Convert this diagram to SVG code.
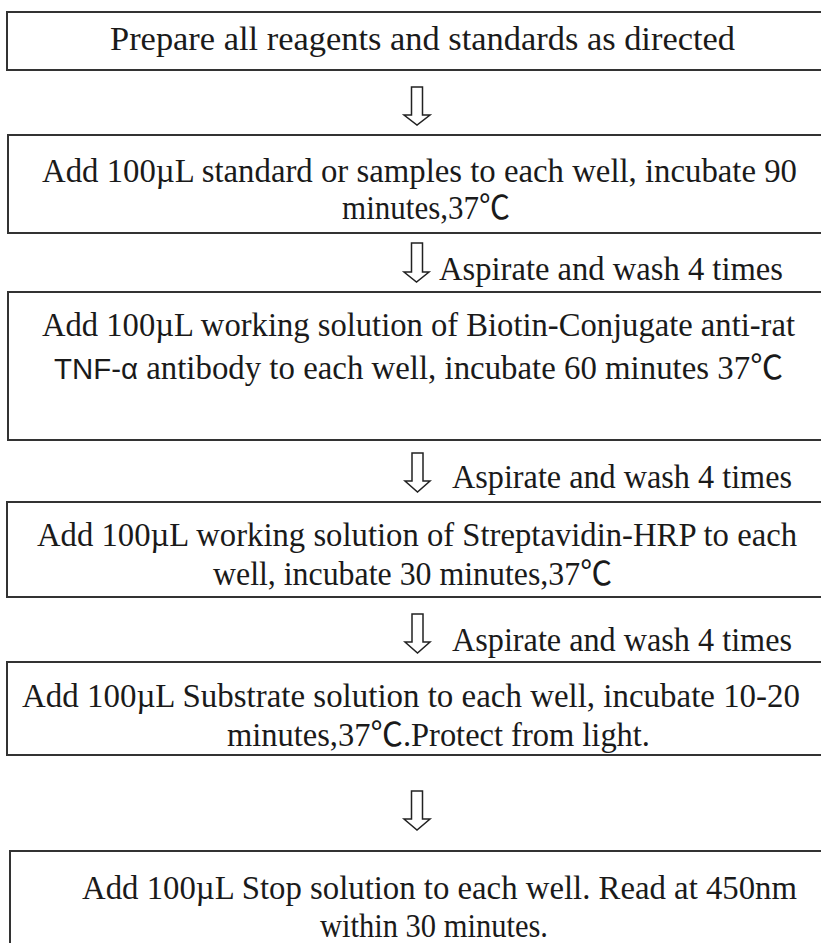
<svg xmlns="http://www.w3.org/2000/svg" width="821" height="943" viewBox="0 0 821 943">
<style>
.box{fill:#fff;stroke:#333;stroke-width:2}
.t{font-family:"Liberation Serif","Noto Sans CJK SC",serif;font-size:33.5px;fill:#1a1a1a}
.s{font-family:"Liberation Sans",Arial,sans-serif;font-size:30px}
.arr{fill:#fff;stroke:#222;stroke-width:1.5;stroke-linejoin:miter}
</style>
<rect width="821" height="943" fill="#fff"/>
<g id="connectors">
<path class="arr" d="M411.5,87 H422.5 V115 H430 L417,125 L404,115 H411.5 Z"/>
<path class="arr" d="M411.5,243 H422.5 V272 H429 L416.5,282 L404,272 H411.5 Z"/>
<text class="t" x="439" y="280" textLength="344" lengthAdjust="spacingAndGlyphs">Aspirate and wash 4 times</text>
<path class="arr" d="M412,453 H423 V481 H430 L417.5,492 L405,481 H412 Z"/>
<text class="t" x="452" y="488" textLength="340" lengthAdjust="spacingAndGlyphs">Aspirate and wash 4 times</text>
<path class="arr" d="M412,614 H423 V642 H430 L417.5,653 L405,642 H412 Z"/>
<text class="t" x="452" y="651" textLength="340" lengthAdjust="spacingAndGlyphs">Aspirate and wash 4 times</text>
<path class="arr" d="M411.5,791 H422.5 V819 H430 L417,830 L404,819 H411.5 Z"/>
</g>
<g id="n1">
<rect class="box" x="7" y="12" width="830" height="58"/>
<text class="t" x="110" y="50" textLength="625" lengthAdjust="spacingAndGlyphs">Prepare all reagents and standards as directed</text>
</g>
<g id="n2">
<rect class="box" x="8" y="135" width="830" height="98"/>
<text class="t" x="42" y="182" textLength="755" lengthAdjust="spacingAndGlyphs">Add 100µL standard or samples to each well, incubate 90</text>
<text class="t" x="342" y="219" textLength="168" lengthAdjust="spacingAndGlyphs">minutes,37℃</text>
</g>
<g id="n3">
<rect class="box" x="8" y="292" width="830" height="148"/>
<text class="t" x="42" y="336" textLength="753" lengthAdjust="spacingAndGlyphs">Add 100µL working solution of Biotin-Conjugate anti-rat</text>
<text class="t" x="54" y="379" textLength="729" lengthAdjust="spacingAndGlyphs"><tspan class="s">TNF-α</tspan> antibody to each well, incubate 60 minutes 37℃</text>
</g>
<g id="n4">
<rect class="box" x="7" y="502" width="830" height="95"/>
<text class="t" x="37" y="546" textLength="760" lengthAdjust="spacingAndGlyphs">Add 100µL working solution of Streptavidin-HRP to each</text>
<text class="t" x="213" y="585" textLength="399" lengthAdjust="spacingAndGlyphs">well, incubate 30 minutes,37℃</text>
</g>
<g id="n5">
<rect class="box" x="7" y="662" width="830" height="93"/>
<text class="t" x="22" y="707" textLength="778" lengthAdjust="spacingAndGlyphs">Add 100µL Substrate solution to each well, incubate 10-20</text>
<text class="t" x="227" y="746" textLength="423" lengthAdjust="spacingAndGlyphs">minutes,37℃.Protect from light.</text>
</g>
<g id="n6">
<rect class="box" x="10" y="851" width="830" height="120"/>
<text class="t" x="82" y="899" textLength="715" lengthAdjust="spacingAndGlyphs">Add 100µL Stop solution to each well. Read at 450nm</text>
<text class="t" x="320" y="937" textLength="228" lengthAdjust="spacingAndGlyphs">within 30 minutes.</text>
</g>
</svg>
